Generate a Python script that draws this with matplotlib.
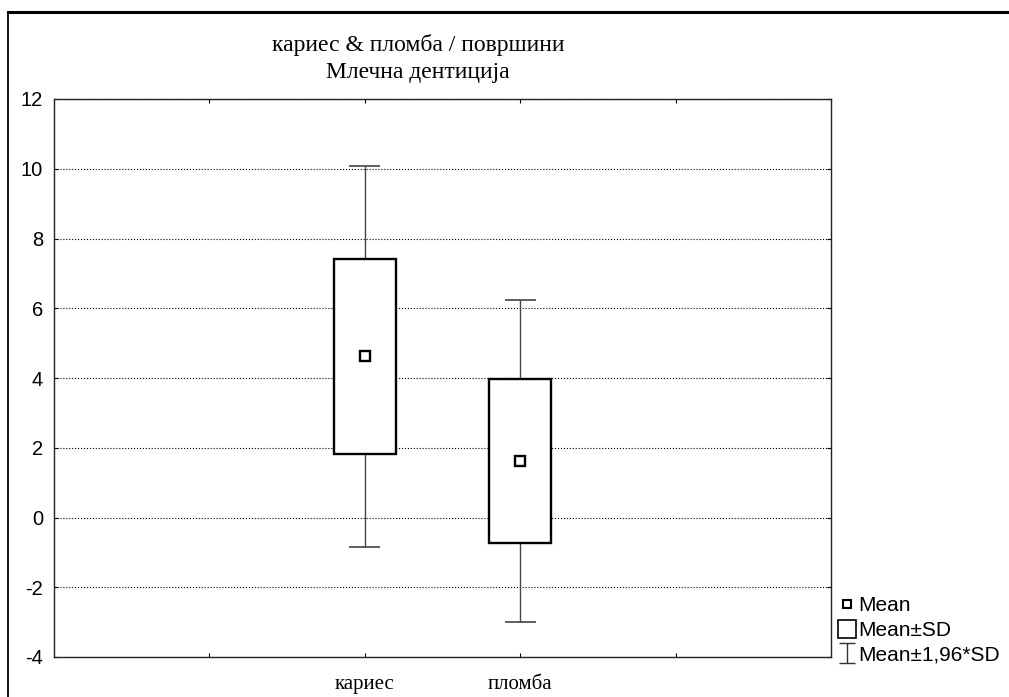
import matplotlib
matplotlib.use("Agg")
import matplotlib.pyplot as plt
from matplotlib.lines import Line2D
from matplotlib.path import Path

plt.rcParams["axes.unicode_minus"] = False

# data
categories = ["кариес", "пломба"]
means = [4.62, 1.62]
sds = [2.79, 2.35]
positions = [2, 3]

title = "кариес & пломба / површини\nМлечна дентиција"
legend_labels = ["Mean", "Mean±SD", "Mean±1,96*SD"]

fig = plt.figure(figsize=(10.09, 6.97), dpi=100)
W, H = 1009, 697

# outer frame (top + left edge of a screenshot window)
fig.add_artist(Line2D([8 / W, 1], [1 - 12 / H, 1 - 12 / H], color="black", lw=2.2))
fig.add_artist(Line2D([8 / W, 8 / W], [0, 1 - 12 / H], color="black", lw=1.3))

ax = fig.add_axes([54 / W, 1 - 657 / H, (831 - 54) / W, (657 - 99) / H])
ax.set_xlim(0, 5)
ax.set_ylim(-4, 12)

# whiskers: mean ± 1.96*SD
for x, m, s in zip(positions, means, sds):
    lo, hi = m - 1.96 * s, m + 1.96 * s
    ax.vlines(x, lo, hi, color="#444444", lw=1.0, zorder=2)
    ax.hlines([lo, hi], x - 0.1, x + 0.1, color="#444444", lw=1.2, zorder=2)

# boxes: mean ± SD
box_lo = [m - s for m, s in zip(means, sds)]
box_h = [2 * s for s in sds]
ax.bar(positions, box_h, bottom=box_lo, width=0.4, color="white",
       edgecolor="black", linewidth=1.7, zorder=3)

# mean markers
ax.plot(positions, means, ls="none", marker="s", ms=6.5, mfc="white",
        mec="black", mew=1.7, zorder=4)

ax.set_yticks(range(-4, 13, 2))
ax.set_xticks([1, 2, 3, 4])
ax.set_xticklabels(["", categories[0], categories[1], ""],
                   fontfamily="Liberation Serif", fontsize=15)
for lab in ax.get_yticklabels():
    lab.set_fontfamily("Liberation Sans")
    lab.set_fontsize(14.5)
ax.tick_params(axis="both", direction="in", length=3, width=0.8,
               top=True, right=True)
ax.tick_params(axis="y", pad=8)
ax.tick_params(axis="x", pad=13)
ax.grid(axis="y", linestyle=":", color="black", lw=0.8)
ax.set_axisbelow(True)
for sp in ax.spines.values():
    sp.set_linewidth(1.0)
    sp.set_color("#222222")

fig.text(418 / W, 1 - 58.5 / H, title, ha="center", va="center",
         fontfamily="Liberation Serif", fontsize=17, linespacing=1.32)

# I-beam marker for the whisker legend entry
ibeam = Path([(-0.75, -1), (0.75, -1), (0, -1), (0, 1), (-0.75, 1), (0.75, 1)],
             [Path.MOVETO, Path.LINETO, Path.MOVETO, Path.LINETO,
              Path.MOVETO, Path.LINETO])
handles = [
    Line2D([], [], ls="none", marker="s", ms=6, mfc="white", mec="black", mew=1.5),
    Line2D([], [], ls="none", marker="s", ms=12.5, mfc="white", mec="black", mew=1.2),
    Line2D([], [], ls="none", marker=ibeam, ms=14.5, mfc="none", mec="#333333", mew=1.0),
]
fig.legend(handles, legend_labels, loc="upper left",
           bbox_to_anchor=(837 / W, 1 - 596 / H), frameon=False,
           prop={"family": "Liberation Sans", "size": 15},
           handlelength=1.0, handletextpad=0.0, labelspacing=0.28,
           borderpad=0, borderaxespad=0)

fig.savefig("out.png", dpi=100, facecolor="white")
